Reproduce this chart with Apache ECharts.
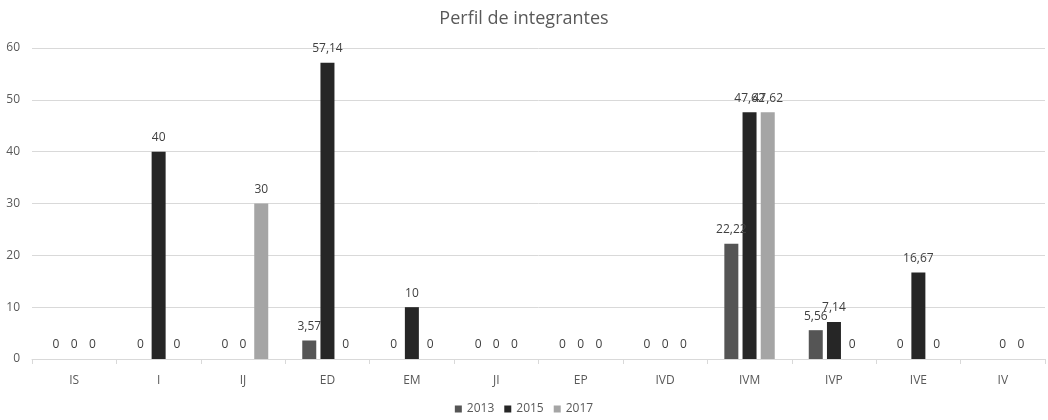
<!DOCTYPE html>
<html><head><meta charset="utf-8">
<script src="https://cdn.jsdelivr.net/npm/echarts@6/dist/echarts.min.js"></script>
<style>html,body{margin:0;padding:0;background:#fff}#c{width:1048px;height:420px}</style>
</head><body><div id="c"></div>
<script>
const categories = ['IS','I','IJ','ED','EM','JI','EP','IVD','IVM','IVP','IVE','IV'];
const s2013 = [0,0,0,3.57,0,0,0,0,22.22,5.56,0,null];
const s2015 = [0,40,0,57.14,10,0,0,0,47.62,7.14,16.67,0];
const s2017 = [0,0,30,0,0,0,0,0,47.62,0,0,0];
const yTicks = [0,10,20,30,40,50,60];
const FONT = '"Liberation Sans Narrow", "Open Sans", sans-serif';
const fmt = p => String(p.value).replace('.', ',');
function mk(name, data, color){
  return {name, type:'bar', data, barWidth:14, barGap:'30%',
    itemStyle:{color},
    label:{show:true, position:'top', distance:8, color:'#404040', fontSize:12, fontFamily:FONT, formatter:fmt}};
}
const chart = echarts.init(document.getElementById('c'));
chart.setOption({
  animation:false,
  title:{text:'Perfil de integrantes', left:'center', top:5, textStyle:{fontFamily:FONT, fontSize:18, fontWeight:'normal', color:'#595959'}},
  grid:{left:32, right:3, top:48, bottom:61},
  legend:{bottom:0, left:'center', itemWidth:7, itemHeight:7, itemGap:10, icon:'rect',
    textStyle:{fontFamily:FONT, fontSize:12, color:'#595959'}},
  xAxis:{type:'category', data:categories,
    axisLine:{lineStyle:{color:'#d9d9d9'}}, axisTick:{show:true, lineStyle:{color:'#d9d9d9'}},
    axisLabel:{color:'#595959', fontFamily:FONT, fontSize:12, margin:16}},
  yAxis:{type:'value', min:yTicks[0], max:yTicks[yTicks.length-1], interval:10,
    axisLabel:{color:'#595959', fontFamily:FONT, fontSize:12, margin:12},
    splitLine:{lineStyle:{color:'#d9d9d9'}}},
  series:[mk('2013', s2013, '#555555'), mk('2015', s2015, '#262626'), mk('2017', s2017, '#a5a5a5')]
});
</script></body></html>
